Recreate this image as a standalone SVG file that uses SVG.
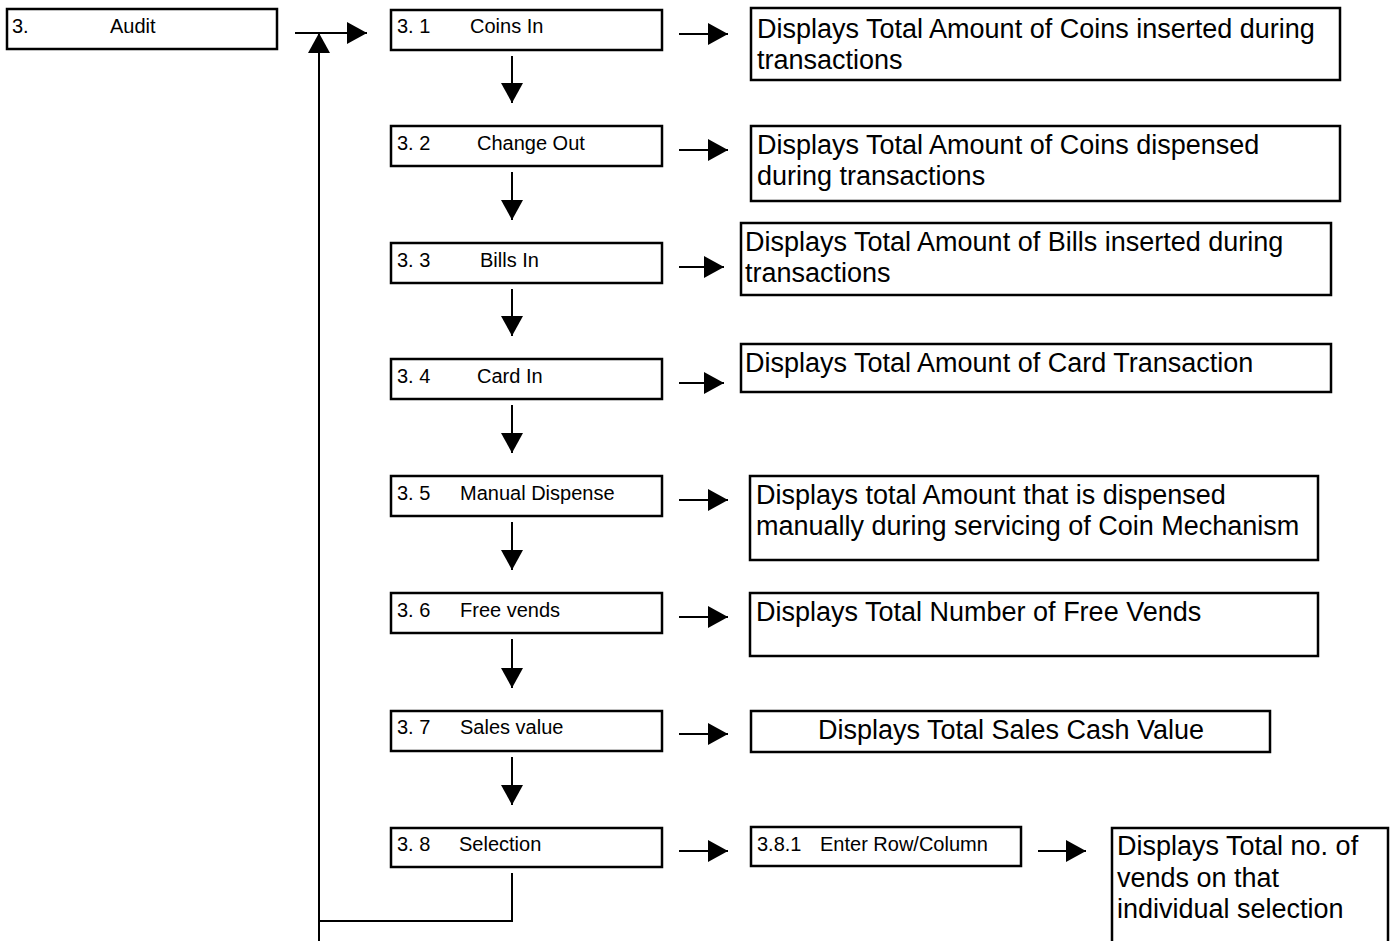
<svg xmlns="http://www.w3.org/2000/svg" width="1391" height="941" viewBox="0 0 1391 941">
<style>
.box{fill:#fff;stroke:#000;stroke-width:2.5}
.lbl{font-family:"Liberation Sans",Arial,sans-serif;font-size:20px;fill:#000}
.desc{font-family:"Liberation Sans",Arial,sans-serif;font-size:27px;fill:#000}
.ln{stroke:#000;stroke-width:2;fill:none}
</style>
<defs>
<marker id="ah" markerUnits="userSpaceOnUse" markerWidth="22" markerHeight="22" refX="20" refY="11" orient="auto">
<path d="M0,0 L20,11 L0,22 z" fill="#000"/>
</marker>
</defs>
<rect width="1391" height="941" fill="#fff"/>

<g id="connectors">
<line class="ln" x1="295" y1="33" x2="367" y2="33" marker-end="url(#ah)"/>
<line class="ln" x1="319" y1="941" x2="319" y2="33" marker-end="url(#ah)"/>
<polyline class="ln" points="512,873 512,921 319,921"/>
<line class="ln" x1="512" y1="56" x2="512" y2="103" marker-end="url(#ah)"/>
<line class="ln" x1="512" y1="172" x2="512" y2="220" marker-end="url(#ah)"/>
<line class="ln" x1="512" y1="289" x2="512" y2="336" marker-end="url(#ah)"/>
<line class="ln" x1="512" y1="405" x2="512" y2="453" marker-end="url(#ah)"/>
<line class="ln" x1="512" y1="522" x2="512" y2="570" marker-end="url(#ah)"/>
<line class="ln" x1="512" y1="639" x2="512" y2="688" marker-end="url(#ah)"/>
<line class="ln" x1="512" y1="757" x2="512" y2="805" marker-end="url(#ah)"/>
<line class="ln" x1="679" y1="34" x2="728" y2="34" marker-end="url(#ah)"/>
<line class="ln" x1="679" y1="150" x2="728" y2="150" marker-end="url(#ah)"/>
<line class="ln" x1="679" y1="267" x2="724" y2="267" marker-end="url(#ah)"/>
<line class="ln" x1="679" y1="383" x2="724" y2="383" marker-end="url(#ah)"/>
<line class="ln" x1="679" y1="500" x2="728" y2="500" marker-end="url(#ah)"/>
<line class="ln" x1="679" y1="617" x2="728" y2="617" marker-end="url(#ah)"/>
<line class="ln" x1="679" y1="734" x2="728" y2="734" marker-end="url(#ah)"/>
<line class="ln" x1="679" y1="851" x2="728" y2="851" marker-end="url(#ah)"/>
<line class="ln" x1="1038" y1="851" x2="1086" y2="851" marker-end="url(#ah)"/>
</g>

<g id="n3">
<rect class="box" x="7" y="9" width="270" height="40"/>
<text class="lbl" x="12" y="33">3.</text>
<text class="lbl" x="110" y="33">Audit</text>
</g>
<g id="n3_1">
<rect class="box" x="391" y="10" width="271" height="40"/>
<text class="lbl" x="397" y="33">3. 1</text>
<text class="lbl" x="470" y="33">Coins In</text>
</g>
<g id="n3_2">
<rect class="box" x="391" y="126" width="271" height="40"/>
<text class="lbl" x="397" y="150">3. 2</text>
<text class="lbl" x="477" y="150">Change Out</text>
</g>
<g id="n3_3">
<rect class="box" x="391" y="243" width="271" height="40"/>
<text class="lbl" x="397" y="267">3. 3</text>
<text class="lbl" x="480" y="267">Bills In</text>
</g>
<g id="n3_4">
<rect class="box" x="391" y="359" width="271" height="40"/>
<text class="lbl" x="397" y="383">3. 4</text>
<text class="lbl" x="477" y="383">Card In</text>
</g>
<g id="n3_5">
<rect class="box" x="391" y="476" width="271" height="40"/>
<text class="lbl" x="397" y="500">3. 5</text>
<text class="lbl" x="460" y="500">Manual Dispense</text>
</g>
<g id="n3_6">
<rect class="box" x="391" y="593" width="271" height="40"/>
<text class="lbl" x="397" y="617">3. 6</text>
<text class="lbl" x="460" y="617">Free vends</text>
</g>
<g id="n3_7">
<rect class="box" x="391" y="711" width="271" height="40"/>
<text class="lbl" x="397" y="734">3. 7</text>
<text class="lbl" x="460" y="734">Sales value</text>
</g>
<g id="n3_8">
<rect class="box" x="391" y="828" width="271" height="39"/>
<text class="lbl" x="397" y="851">3. 8</text>
<text class="lbl" x="459" y="851">Selection</text>
</g>

<g id="d3_1">
<rect class="box" x="751" y="8" width="589" height="72"/>
<text class="desc" x="757" y="38">Displays Total Amount of Coins inserted during</text>
<text class="desc" x="757" y="69">transactions</text>
</g>
<g id="d3_2">
<rect class="box" x="751" y="126" width="589" height="75"/>
<text class="desc" x="757" y="154">Displays Total Amount of Coins dispensed</text>
<text class="desc" x="757" y="185">during transactions</text>
</g>
<g id="d3_3">
<rect class="box" x="741" y="223" width="590" height="72"/>
<text class="desc" x="745" y="251">Displays Total Amount of Bills inserted during</text>
<text class="desc" x="745" y="282">transactions</text>
</g>
<g id="d3_4">
<rect class="box" x="741" y="344" width="590" height="48"/>
<text class="desc" x="745" y="372">Displays Total Amount of Card Transaction</text>
</g>
<g id="d3_5">
<rect class="box" x="750" y="476" width="568" height="84"/>
<text class="desc" x="756" y="504">Displays total Amount that is dispensed</text>
<text class="desc" x="756" y="535">manually during servicing of Coin Mechanism</text>
</g>
<g id="d3_6">
<rect class="box" x="750" y="593" width="568" height="63"/>
<text class="desc" x="756" y="621">Displays Total Number of Free Vends</text>
</g>
<g id="d3_7">
<rect class="box" x="751" y="711" width="519" height="41"/>
<text class="desc" x="1011" y="739" text-anchor="middle">Displays Total Sales Cash Value</text>
</g>
<g id="n3_8_1">
<rect class="box" x="751" y="827" width="270" height="39"/>
<text class="lbl" x="757" y="851">3.8.1</text>
<text class="lbl" x="820" y="851">Enter Row/Column</text>
</g>
<g id="d3_8_1">
<rect class="box" x="1112" y="828" width="276" height="130"/>
<text class="desc" x="1117" y="855">Displays Total no. of</text>
<text class="desc" x="1117" y="887">vends on that</text>
<text class="desc" x="1117" y="918">individual selection</text>
</g>
</svg>
